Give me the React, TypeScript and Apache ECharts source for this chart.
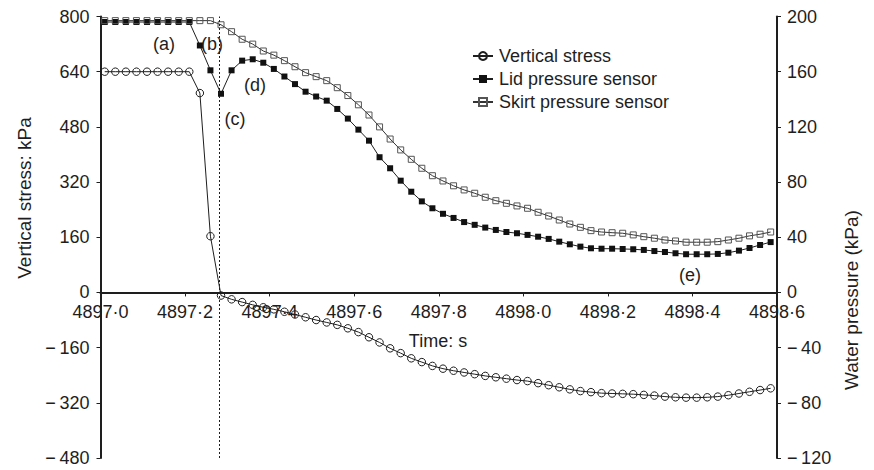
import React, { useEffect, useRef } from "react";
import * as echarts from "echarts";

// Time samples (s)
const timeS = [
  4897.010, 4897.035, 4897.060, 4897.085, 4897.110, 4897.135, 4897.160, 4897.185,
  4897.210, 4897.235, 4897.260, 4897.285, 4897.310, 4897.335, 4897.360, 4897.385,
  4897.410, 4897.435, 4897.460, 4897.485, 4897.510, 4897.535, 4897.560, 4897.585,
  4897.610, 4897.635, 4897.660, 4897.685, 4897.710, 4897.735, 4897.760, 4897.785,
  4897.810, 4897.835, 4897.860, 4897.885, 4897.910, 4897.935, 4897.960, 4897.985,
  4898.010, 4898.035, 4898.060, 4898.085, 4898.110, 4898.135, 4898.160, 4898.185,
  4898.210, 4898.235, 4898.260, 4898.285, 4898.310, 4898.335, 4898.360, 4898.385,
  4898.410, 4898.435, 4898.460, 4898.485, 4898.510, 4898.535, 4898.560, 4898.585,
];

// Vertical stress (kPa, left axis)
const verticalStress = [
  640, 640, 640, 640, 640, 640, 640, 640,
  640, 578, 163, -9, -20, -28, -36, -43,
  -49, -56, -64, -72, -80, -87, -94, -104,
  -115, -130, -145, -162, -176, -191, -202, -213,
  -221, -227, -232, -237, -242, -246, -250, -254,
  -257, -263, -269, -275, -281, -286, -289, -292,
  -293, -294, -295, -297, -299, -302, -304, -305,
  -305, -304, -302, -298, -293, -288, -283, -278,
];

// Lid pressure sensor (kPa, right axis)
const lidPressure = [
  196, 196, 196, 196, 196, 196, 196, 196,
  196, 179, 161, 144, 161, 168, 169, 166.5,
  162, 156.5, 151, 145.5, 142, 139, 133, 126,
  118, 110, 98, 90, 81, 73, 66, 61,
  57, 54, 51, 49, 47, 45.3, 43.8, 42.9,
  41.7, 40.4, 38.8, 36.8, 34.9, 33.2, 32, 31.7,
  31.7, 31.5, 31.3, 30.8, 30, 29.3, 28.4, 27.7,
  27.7, 27.7, 27.9, 28.8, 30.3, 32.2, 34.4, 36.5,
];

// Skirt pressure sensor (kPa, right axis)
const skirtPressure = [
  197, 197, 197, 197, 197, 197, 197, 197,
  197, 197, 197, 194, 189, 183.5, 180, 175,
  172, 168, 163.6, 159.3, 156.4, 153.5, 148.4, 142.7,
  136, 128.6, 120, 111.2, 103.3, 96.5, 90, 84.6,
  80.8, 77.3, 74.3, 71.9, 69, 66.5, 64.6, 62.7,
  61, 58.1, 55.4, 52.5, 49.6, 47.2, 44.8, 43.8,
  43.3, 42.9, 41.7, 40.4, 39.3, 38, 37.3, 36.4,
  36.4, 36.4, 36.8, 38, 39.3, 41, 42.2, 43.8,
];

const seriesNames = ["Vertical stress", "Lid pressure sensor", "Skirt pressure sensor"];
const markTime = 4897.285;
const annotations = [
  { text: "(a)", x: 164, y: 44 },
  { text: "(b)", x: 212, y: 44 },
  { text: "(c)", x: 235, y: 119 },
  { text: "(d)", x: 255, y: 85 },
  { text: "(e)", x: 690, y: 275 },
];

const FONT = "'Liberation Sans', Arial, Helvetica, sans-serif";
const INK = "#1e1e1e";

const GRID_TOP = 16.5;
const GRID_BOTTOM = 12;
const CHART_H = 470;
const Y_MIN = -480;
const Y_MAX = 800;

export default function App() {
  const ref = useRef<HTMLDivElement>(null);

  useEffect(() => {
    const chart = echarts.init(ref.current!, null, { renderer: "svg" });
    const fmtNeg = (v: number) => (v < 0 ? "\u2212\u2009" + Math.abs(v) : String(v));
    const pair = (vals: number[]) => timeS.map((t, i) => [t, vals[i]]);

    // place the time axis on the zero line of the stress axis
    const plotH = CHART_H - GRID_TOP - GRID_BOTTOM;
    const zeroFromBottom = (plotH * (0 - Y_MIN)) / (Y_MAX - Y_MIN);

    const axisCommon = {
      type: "value",
      axisLine: { show: true, onZero: false, lineStyle: { color: INK, width: 2 } },
      axisTick: { show: true, inside: false, length: 4, lineStyle: { color: INK, width: 1 } },
      splitLine: { show: false },
      axisLabel: { color: INK, fontSize: 18, fontFamily: FONT, margin: 11, formatter: fmtNeg },
    };

    chart.setOption({
      animation: false,
      backgroundColor: "#fff",
      grid: { left: 100.5, right: 97, top: GRID_TOP, bottom: GRID_BOTTOM, containLabel: false },
      xAxis: {
        type: "value",
        position: "bottom",
        offset: -zeroFromBottom,
        min: 4897,
        max: 4898.6,
        interval: 0.2,
        axisLine: { show: true, onZero: false, lineStyle: { color: INK, width: 2 } },
        axisTick: { show: true, inside: false, length: 4, lineStyle: { color: INK, width: 1 } },
        splitLine: { show: false },
        axisLabel: {
          color: INK,
          fontSize: 18,
          fontFamily: FONT,
          margin: 11,
          formatter: (v: number) => v.toFixed(1).replace(".", "\u00B7"),
        },
      },
      yAxis: [
        { ...axisCommon, position: "left", min: Y_MIN, max: Y_MAX, interval: 160 },
        { ...axisCommon, position: "right", min: -120, max: 200, interval: 40, axisLabel: { ...axisCommon.axisLabel, margin: 10 } },
      ],
      legend: {
        orient: "vertical",
        left: 467,
        top: 42,
        itemWidth: 20,
        itemHeight: 10,
        itemGap: 5,
        textStyle: { color: INK, fontSize: 18, fontFamily: FONT, padding: [0, 0, 0, 1] },
        data: seriesNames,
      },
      series: [
        {
          name: seriesNames[0],
          type: "line",
          yAxisIndex: 0,
          data: pair(verticalStress),
          symbol: "circle",
          symbolSize: 7.5,
          lineStyle: { color: INK, width: 1 },
          itemStyle: { color: "rgba(255,255,255,0)", borderColor: INK, borderWidth: 1 },
          markLine: {
            silent: true,
            symbol: ["none", "none"],
            label: { show: false },
            lineStyle: { color: INK, type: [2, 2], width: 1 },
            data: [{ xAxis: markTime }],
          },
          z: 3,
        },
        {
          name: seriesNames[1],
          type: "line",
          yAxisIndex: 1,
          data: pair(lidPressure),
          symbol: "rect",
          symbolSize: 6,
          lineStyle: { color: INK, width: 1 },
          itemStyle: { color: "#111", borderColor: "#111", borderWidth: 0 },
          z: 4,
        },
        {
          name: seriesNames[2],
          type: "line",
          yAxisIndex: 1,
          data: pair(skirtPressure),
          symbol: "rect",
          symbolSize: 6,
          lineStyle: { color: "#333", width: 1 },
          itemStyle: { color: "rgba(255,255,255,0)", borderColor: "#555", borderWidth: 1 },
          z: 4,
        },
      ],
      graphic: [
        {
          type: "text",
          x: 24,
          y: 198,
          rotation: Math.PI / 2,
          style: { text: "Vertical stress: kPa", font: `19px ${FONT}`, fill: INK, align: "center", verticalAlign: "middle" },
        },
        {
          type: "text",
          x: 851,
          y: 300,
          rotation: Math.PI / 2,
          style: { text: "Water pressure (kPa)", font: `19px ${FONT}`, fill: INK, align: "center", verticalAlign: "middle" },
        },
        {
          type: "text",
          x: 438,
          y: 341,
          style: { text: "Time: s", font: `18px ${FONT}`, fill: INK, align: "center", verticalAlign: "middle" },
        },
        ...annotations.map((a) => ({
          type: "text",
          x: a.x,
          y: a.y,
          style: { text: a.text, font: `18px ${FONT}`, fill: INK, align: "center", verticalAlign: "middle" },
        })),
      ],
    });

    return () => chart.dispose();
  }, []);

  return (
    <div
      ref={ref}
      style={{ position: "fixed", left: 0, top: 0, width: 874, height: 470, background: "#fff" }}
    />
  );
}
